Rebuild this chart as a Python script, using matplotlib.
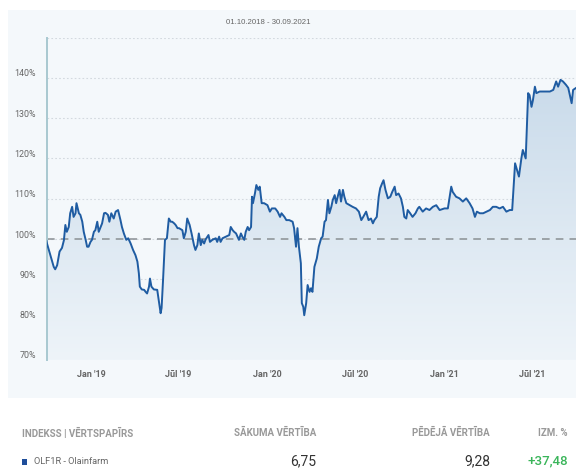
import matplotlib
matplotlib.use("Agg")
import matplotlib.pyplot as plt
import matplotlib.dates as mdates
import matplotlib.transforms as mtransforms
import numpy as np
import pandas as pd
from matplotlib.patches import Rectangle, PathPatch
from matplotlib.colors import LinearSegmentedColormap

plt.rcParams['font.family'] = ['Roboto', 'DejaVu Sans']

title = "01.10.2018 - 30.09.2021"

dates = [
    "2018-10-01", "2018-10-02", "2018-10-09", "2018-10-16", "2018-10-19", "2018-10-23", "2018-10-28",
    "2018-11-02", "2018-11-06", "2018-11-09", "2018-11-12", "2018-11-16", "2018-11-19", "2018-11-23",
    "2018-11-26", "2018-11-30", "2018-12-02", "2018-12-07", "2018-12-10", "2018-12-14", "2018-12-17",
    "2018-12-21", "2018-12-24", "2018-12-27", "2018-12-31", "2019-01-03", "2019-01-07", "2019-01-10",
    "2019-01-14", "2019-01-17", "2019-01-21", "2019-01-24", "2019-01-28", "2019-01-31", "2019-02-05",
    "2019-02-08", "2019-02-12", "2019-02-17", "2019-02-21", "2019-02-26", "2019-03-03", "2019-03-06",
    "2019-03-10", "2019-03-15", "2019-03-19", "2019-03-24", "2019-03-29", "2019-04-03", "2019-04-07",
    "2019-04-10", "2019-04-12", "2019-04-16", "2019-04-21", "2019-04-24", "2019-04-27", "2019-05-01",
    "2019-05-03", "2019-05-06", "2019-05-11", "2019-05-18", "2019-05-21", "2019-05-25", "2019-05-27",
    "2019-05-30", "2019-06-03", "2019-06-07", "2019-06-11", "2019-06-15", "2019-06-18", "2019-06-22",
    "2019-06-25", "2019-06-29", "2019-07-02", "2019-07-09", "2019-07-12", "2019-07-16", "2019-07-19",
    "2019-07-24", "2019-07-28", "2019-08-02", "2019-08-05", "2019-08-09", "2019-08-12", "2019-08-16",
    "2019-08-19", "2019-08-23", "2019-08-26", "2019-09-01", "2019-09-04", "2019-09-09", "2019-09-16",
    "2019-09-19", "2019-09-23", "2019-09-26", "2019-09-30", "2019-10-07", "2019-10-14", "2019-10-17",
    "2019-10-21", "2019-10-24", "2019-10-28", "2019-10-31", "2019-11-03", "2019-11-07", "2019-11-10",
    "2019-11-14", "2019-11-17", "2019-11-21", "2019-11-24", "2019-11-28", "2019-11-30", "2019-12-02",
    "2019-12-06", "2019-12-09", "2019-12-13", "2019-12-16", "2019-12-20", "2019-12-25", "2020-01-01",
    "2020-01-06", "2020-01-10", "2020-01-17", "2020-01-22", "2020-01-27", "2020-01-30", "2020-02-05",
    "2020-02-09", "2020-02-15", "2020-02-22", "2020-02-25", "2020-02-29", "2020-03-03", "2020-03-06",
    "2020-03-10", "2020-03-12", "2020-03-15", "2020-03-17", "2020-03-21", "2020-03-24", "2020-03-28",
    "2020-03-31", "2020-04-03", "2020-04-07", "2020-04-12", "2020-04-16", "2020-04-21", "2020-04-24",
    "2020-04-28", "2020-05-01", "2020-05-05", "2020-05-08", "2020-05-12", "2020-05-15", "2020-05-19",
    "2020-05-22", "2020-05-26", "2020-05-29", "2020-06-01", "2020-06-05", "2020-06-08", "2020-06-12",
    "2020-06-19", "2020-06-25", "2020-07-02", "2020-07-08", "2020-07-13", "2020-07-17", "2020-07-23",
    "2020-07-28", "2020-08-02", "2020-08-06", "2020-08-09", "2020-08-14", "2020-08-18", "2020-08-21",
    "2020-08-25", "2020-08-28", "2020-09-01", "2020-09-06", "2020-09-11", "2020-09-15", "2020-09-20",
    "2020-09-23", "2020-09-28", "2020-10-03", "2020-10-07", "2020-10-10", "2020-10-14", "2020-10-17",
    "2020-10-22", "2020-10-27", "2020-11-02", "2020-11-07", "2020-11-10", "2020-11-17", "2020-11-24",
    "2020-12-01", "2020-12-08", "2020-12-15", "2020-12-22", "2021-01-01", "2021-01-08", "2021-01-15",
    "2021-01-18", "2021-01-25", "2021-02-01", "2021-02-08", "2021-02-15", "2021-02-22", "2021-02-28",
    "2021-03-05", "2021-03-09", "2021-03-15", "2021-03-22", "2021-03-29", "2021-04-05", "2021-04-11",
    "2021-04-18", "2021-04-25", "2021-05-02", "2021-05-09", "2021-05-16", "2021-05-21", "2021-05-27",
    "2021-05-31", "2021-06-04", "2021-06-09", "2021-06-12", "2021-06-18", "2021-06-23", "2021-06-26",
    "2021-06-30", "2021-07-03", "2021-07-07", "2021-07-10", "2021-07-17", "2021-07-24", "2021-07-31",
    "2021-08-07", "2021-08-14", "2021-08-20", "2021-08-24", "2021-08-29", "2021-09-03", "2021-09-09",
    "2021-09-14", "2021-09-21", "2021-09-24", "2021-09-30",
]

values = [
    99.5, 98.9, 96.0, 93.1, 92.5, 93.5, 96.9,
    97.8, 99.7, 103.5, 101.8, 103.0, 106.4, 108.0,
    105.5, 106.4, 108.9, 106.4, 106.0, 104.3, 101.8,
    99.8, 98.1, 98.1, 99.3, 99.8, 101.8, 102.2,
    104.3, 101.8, 103.0, 103.9, 106.4, 106.5, 106.0,
    104.3, 106.4, 105.1, 106.8, 107.2, 104.7, 103.0,
    101.4, 99.8, 100.2, 98.9, 97.3, 96.0, 94.4,
    91.5, 88.2, 87.5, 87.4, 86.9, 86.5, 88.2,
    90.2, 88.2, 87.5, 87.4, 84.9, 81.6, 82.9,
    89.8, 99.8, 100.2, 105.1, 104.3, 104.3, 103.9,
    103.5, 102.7, 102.7, 102.2, 100.2, 101.8, 105.1,
    103.5, 101.4, 98.5, 97.3, 98.5, 101.4, 98.5,
    99.8, 98.9, 99.9, 101.0, 99.3, 99.8, 100.2,
    99.3, 100.6, 99.3, 100.2, 100.6, 101.0, 103.0,
    102.2, 101.8, 101.4, 100.6, 99.8, 101.4, 100.6,
    99.8, 101.8, 103.0, 102.2, 103.0, 110.5, 108.9,
    111.3, 113.4, 112.2, 113.0, 108.9, 108.9, 108.4,
    106.8, 107.6, 107.6, 106.8, 105.5, 106.4, 105.5,
    104.7, 104.7, 104.3, 102.7, 98.1, 102.7, 98.1,
    94.0, 84.1, 83.2, 81.1, 84.1, 88.6, 86.9,
    87.8, 86.9, 93.1, 95.2, 98.1, 100.2, 100.6,
    104.3, 104.7, 109.7, 106.4, 108.0, 109.7, 110.9,
    108.9, 110.9, 112.2, 109.3, 112.2, 110.5, 108.9,
    108.4, 108.0, 107.6, 106.8, 104.7, 105.5, 106.8,
    104.7, 105.1, 103.9, 104.7, 105.5, 110.5, 112.6,
    113.8, 114.6, 112.2, 110.1, 110.5, 111.7, 113.0,
    110.9, 111.3, 110.1, 108.0, 105.5, 105.1, 107.2,
    106.4, 105.5, 106.4, 107.6, 108.0, 106.8, 107.6,
    107.2, 108.0, 108.4, 107.2, 107.6, 107.6, 113.0,
    111.7, 110.5, 110.1, 109.3, 110.1, 108.9, 107.6,
    105.5, 106.8, 106.4, 106.4, 106.8, 107.2, 108.0,
    108.0, 107.6, 108.0, 106.8, 107.2, 107.2, 118.8,
    117.1, 115.5, 120.0, 122.1, 120.0, 136.2, 135.7,
    132.8, 134.5, 137.8, 136.2, 136.6, 136.6, 136.6,
    136.6, 137.0, 139.1, 137.8, 139.5, 139.1, 138.3,
    137.5, 133.7, 137.0, 137.48,
]

y_ticks = [70, 80, 90, 100, 110, 120, 130, 140]
y_tick_labels = ["70%", "80%", "90%", "100%", "110%", "120%", "130%", "140%"]
x_tick_dates = ["2019-01-01", "2019-07-01", "2020-01-01", "2020-07-01", "2021-01-01", "2021-07-01"]
x_tick_labels = ["Jan '19", "Jūl '19", "Jan '20", "Jūl '20", "Jan '21", "Jūl '21"]

table_headers = ["INDEKSS | VĒRTSPAPĪRS", "SĀKUMA VĒRTĪBA", "PĒDĒJĀ VĒRTĪBA", "IZM. %"]
row_name = "OLF1R - Olainfarm"
start_value = "6,75"
end_value = "9,28"
change = "+37,48"

W, H = 576, 470
fig = plt.figure(figsize=(W / 100, H / 100), dpi=100)
fig.patch.set_facecolor("white")

# light panel
fig.patches.append(Rectangle((8 / W, 1 - 398 / H), (W - 8) / W, (398 - 10) / H,
                             transform=fig.transFigure, facecolor="#f4f8fb",
                             edgecolor="none", zorder=-5))

ax = fig.add_axes([46.5 / W, 1 - 360 / H, (W - 46.5) / W, (360 - 37.5) / H])
ax.set_zorder(2)
ax.set_facecolor("none")
x = mdates.date2num(pd.to_datetime(dates))
y = np.array(values)
x0 = mdates.date2num(pd.Timestamp("2018-10-01"))
x1 = mdates.date2num(pd.Timestamp("2021-09-30"))

# gradient fill under curve
cmap = LinearSegmentedColormap.from_list("g", ["#eef4f9", "#c4d7e8"])
grad = np.linspace(0, 1, 256).reshape(-1, 1)
im = ax.imshow(grad, cmap=cmap, aspect="auto", origin="lower",
               extent=[x0, x1, 70, 150], zorder=1, interpolation="bilinear")
poly = ax.fill_between(x, y, 70, facecolor="none", edgecolor="none")
clip = poly.get_paths()[0]
pp = PathPatch(clip, transform=ax.transData, facecolor="none", edgecolor="none")
ax.add_patch(pp)
im.set_clip_path(pp)

for t in list(y_ticks) + [150]:
    ax.axhline(t, color="#d3d9df", lw=0.8, ls=(0, (1.5, 2)), zorder=0.5)
ax.axhline(100, color="#8a8f94", lw=1.1, ls=(0, (5, 4)), zorder=2)

ax.plot(x, y, color="#1f5ca2", lw=1.4, zorder=3, solid_joinstyle="round")

ax.set_xlim(x0, x1)
ax.set_ylim(70, 150)

for s in ["top", "right", "bottom"]:
    ax.spines[s].set_visible(False)
ax.spines["left"].set_color("#a8c8d0")
ax.spines["left"].set_linewidth(1.4)

ax.set_yticks(y_ticks)
ax.set_yticklabels([])
ax.tick_params(axis="both", length=0)
ytrans = mtransforms.blended_transform_factory(fig.transFigure, ax.transData) + \
    mtransforms.ScaledTranslation(0, 4 / 100, fig.dpi_scale_trans)
for t, lab in zip(y_ticks, y_tick_labels):
    fig.text(36 / W, t, lab, transform=ytrans, ha="right", va="center",
             fontsize=6.4, color="#666666")

ax.set_xticks(mdates.date2num(pd.to_datetime(x_tick_dates)))
ax.set_xticklabels(x_tick_labels, fontsize=6.5, color="#666666", fontweight="bold")
ax.tick_params(axis="x", pad=7)

fig.text(268 / W, 1 - 22 / H, title, ha="center", va="center", fontsize=5.6, color="#666666",
         family=["Liberation Sans", "DejaVu Sans"])

# table
hy = 1 - 433 / H
ry = 1 - 461 / H
hdr_kw = dict(fontsize=7.0, color="#999999", fontweight="bold", va="center")
fig.text(22 / W, hy, table_headers[0], ha="left", **hdr_kw)
fig.text(316 / W, hy, table_headers[1], ha="right", **hdr_kw)
fig.text(490 / W, hy, table_headers[2], ha="right", **hdr_kw)
fig.text(568 / W, hy, table_headers[3], ha="right", **hdr_kw)

fig.patches.append(Rectangle((21.5 / W, 1 - 464.5 / H), 5.5 / W, 6 / H,
                             transform=fig.transFigure, facecolor="#1f4e9a",
                             edgecolor="none"))
fig.text(34 / W, ry, row_name, ha="left", va="center", fontsize=6.7, color="#666666")
fig.text(316 / W, ry, start_value, ha="right", va="center", fontsize=10, color="#333333")
fig.text(490 / W, ry, end_value, ha="right", va="center", fontsize=10, color="#333333")
fig.text(568 / W, ry, change, ha="right", va="center", fontsize=9.5, color="#3ab55a",
         fontweight="medium")

fig.savefig("out.png", dpi=100)
